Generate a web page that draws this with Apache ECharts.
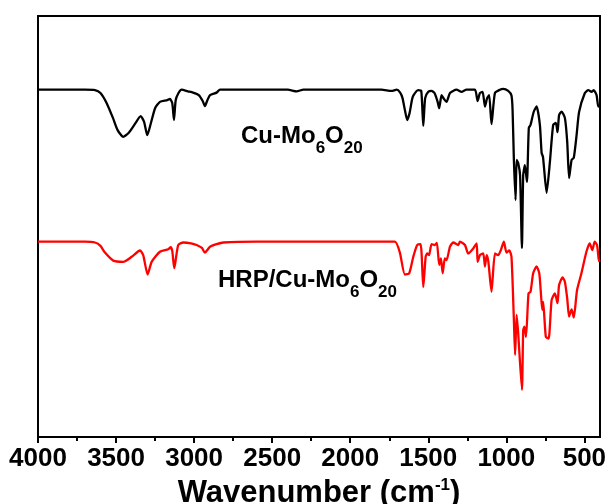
<!DOCTYPE html>
<html>
<head>
<meta charset="utf-8">
<script src="https://cdn.jsdelivr.net/npm/echarts@6/dist/echarts.min.js"></script>
<style>html,body{margin:0;padding:0;background:#fff}#c{width:608px;height:504px}</style>
</head>
<body>
<div id="c"></div>
<script>
// Wavenumbers (cm-1) and transmittance (a.u.)
const blackWave = [4000,3800,3700,3635,3600,3560,3520,3490,3454,3420,3380,3342,3320,3300,3280,3250,3219,3172,3155,3140,3129,3118,3100,3080,3040,3007,2970,2945,2931,2915,2898,2856,2834,2700,2400,2343,2300,2000,1800,1735,1703,1680,1665,1650,1635,1620,1605,1596,1565,1545,1532,1520,1500,1479,1460,1440,1430,1415,1400,1383,1361,1319,1287,1255,1201,1184,1169,1152,1137,1123,1110,1095,1073,1041,1020,988,967,960,952,941,934,924,912,900,892,881,868,856,845,825,806,785,774,765,742,721,700,683,672,662,646,625,610,598,582,568,550,534,497,475,454,440,422,411,403];
const blackT = [82.5,82.5,82.5,82.4,81.7,79.3,75.8,72.9,71.3,72.2,74.3,76.2,74.8,71.7,74.1,78.1,79.6,80.0,80.3,79.3,75.3,80.0,81.7,82.5,82.1,81.8,81.2,79.8,78.6,80.0,81.2,81.8,82.5,82.5,82.5,82.1,82.5,82.5,82.5,82.2,82.5,81.8,80.5,77.7,75.3,76.9,80.0,81.1,82.4,82.2,73.9,80.5,82.0,82.2,81.7,79.6,78.1,81.2,80.3,79.6,81.7,82.5,82.0,82.5,82.5,79.8,81.7,82.0,78.5,80.5,81.2,74.3,81.7,82.5,82.7,82.2,81.1,77.7,66.3,56.3,65.8,65.1,62.2,44.9,62.2,64.6,60.6,73.4,74.1,77.2,78.5,74.1,67.5,66.5,58.0,65.3,74.1,74.6,72.4,76.5,77.3,75.8,70.1,61.5,65.8,66.3,71.7,77.2,81.7,82.4,82.0,82.4,81.2,78.5,78.6];

const redWave = [4000,3700,3635,3600,3571,3518,3454,3400,3347,3326,3298,3272,3219,3166,3150,3140,3127,3102,3069,3020,2984,2950,2931,2898,2856,2813,2600,2200,1900,1714,1682,1650,1622,1596,1571,1549,1532,1517,1507,1495,1479,1458,1445,1430,1419,1408,1394,1383,1361,1340,1308,1297,1265,1244,1212,1190,1184,1169,1148,1137,1126,1115,1095,1073,1052,1035,1016,999,981,967,952,944,934,924,900,892,884,874,858,845,828,806,789,780,770,764,747,729,710,689,680,672,662,640,625,610,598,582,568,547,519,487,466,449,434,419,409,403];
const redT = [46.4,46.4,46.2,45.4,43.8,41.9,41.6,42.8,44.3,43.2,38.6,41.6,44.0,44.6,45.1,44.2,40.1,45.6,46.2,46.0,45.6,44.9,43.8,45.2,45.8,46.2,46.4,46.4,46.4,46.4,43.8,38.6,38.9,42.8,45.6,45.8,35.6,42.8,43.6,43.2,45.8,45.6,46.1,40.9,42.4,38.9,42.4,42.0,45.2,46.2,45.6,46.4,45.6,43.6,44.8,46.0,41.6,43.2,43.6,40.5,43.2,41.6,34.5,43.6,43.2,44.4,46.4,43.8,44.3,42.8,28.2,19.5,29.0,24.6,11.2,25.4,26.2,23.8,34.1,34.5,38.9,40.5,38.9,34.9,30.2,32.1,23.8,23.4,32.5,34.1,33.0,31.8,36.1,37.9,36.9,32.9,28.6,30.3,28.4,34.9,38.9,44.0,46.0,44.4,46.4,45.6,42.4,41.6];

const majorTicks = [4000,3500,3000,2500,2000,1500,1000,500];
const minorTicks = [3750,3250,2750,2250,1750,1250,750];
const seriesNames = ['Cu-Mo6O20','HRP/Cu-Mo6O20'];

const zip = (a, b) => a.map((v, i) => [v, b[i]]);
const chart = echarts.init(document.getElementById('c'), null, {renderer: 'canvas'});
const mainFont = "'Liberation Sans',Arial,sans-serif";
const labelRich = {
  m: {fontFamily: mainFont, fontWeight: 'bold', fontSize: 24, color: '#000', lineHeight: 26},
  s: {fontFamily: mainFont, fontWeight: 'bold', fontSize: 17, color: '#000', lineHeight: 17, padding: [24, 0, 0, 0]}
};

chart.setOption({
  animation: false,
  backgroundColor: '#fff',
  grid: {left: 38, right: 8, top: 16, bottom: 67, containLabel: false, outerBoundsMode: 'none',
         show: true, borderColor: '#000', borderWidth: 2, backgroundColor: 'transparent'},
  xAxis: [{
    type: 'value', min: 400, max: 4000, inverse: true,
    axisLine: {show: true, lineStyle: {color: '#000', width: 2}},
    axisTick: {show: true, inside: false, length: 6, lineStyle: {color: '#000', width: 2}, customValues: majorTicks},
    axisLabel: {show: true, customValues: majorTicks, formatter: v => String(v), color: '#000',
                fontFamily: mainFont, fontWeight: 'bold', fontSize: 26, margin: 9, hideOverlap: false},
    splitLine: {show: false},
    name: '{t|Wavenumber (cm}{s|-1}{t|)}',
    nameLocation: 'middle', nameGap: 30,
    nameTextStyle: {
      rich: {
        t: {fontFamily: mainFont, fontWeight: 'bold', fontSize: 31, color: '#000', lineHeight: 34},
        s: {fontFamily: mainFont, fontWeight: 'bold', fontSize: 17, color: '#000', lineHeight: 17, padding: [0, 0, 17, 0]}
      }
    }
  }, {
    type: 'value', min: 400, max: 4000, inverse: true, position: 'bottom',
    axisLine: {show: false},
    axisTick: {show: true, inside: false, length: 4, lineStyle: {color: '#000', width: 2}, customValues: minorTicks},
    axisLabel: {show: false},
    splitLine: {show: false}
  }],
  yAxis: {
    type: 'value', min: 0, max: 100,
    axisLine: {show: true, lineStyle: {color: '#000', width: 2}},
    axisTick: {show: false}, axisLabel: {show: false}, splitLine: {show: false}
  },
  series: [{
    name: seriesNames[0], type: 'line', data: zip(blackWave, blackT), showSymbol: false,
    smooth: 0.2, lineStyle: {color: '#000', width: 2.3}, itemStyle: {color: '#000'}
  }, {
    name: seriesNames[1], type: 'line', data: zip(redWave, redT), showSymbol: false,
    smooth: 0.2, lineStyle: {color: '#ff0000', width: 2.3}, itemStyle: {color: '#ff0000'}
  }],
  graphic: [{
    type: 'text', left: 241, top: 116,
    style: {text: '{m|Cu-Mo}{s|6}{m|O}{s|20}', rich: labelRich}
  }, {
    type: 'text', left: 218, top: 260,
    style: {text: '{m|HRP/Cu-Mo}{s|6}{m|O}{s|20}', rich: labelRich}
  }]
});
</script>
</body>
</html>
